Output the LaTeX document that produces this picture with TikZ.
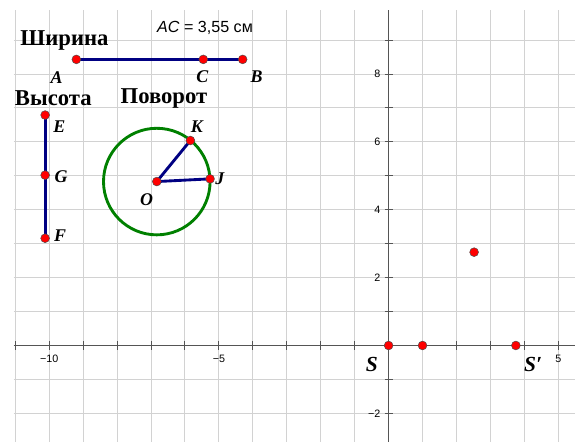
\documentclass[tikz,border=0pt]{standalone}
\usepackage{fontspec}
\setmainfont{Liberation Serif}
\newfontfamily\axisfont{Liberation Sans}
\usepackage{tikz}
\definecolor{segblue}{RGB}{0,0,130}
\definecolor{circgreen}{RGB}{0,128,0}
\definecolor{gridgray}{RGB}{210,210,210}
\definecolor{axisgray}{RGB}{85,85,85}
\tikzset{
  pt/.style={circle,fill=red,draw=black!70,line width=0.4pt,inner sep=0pt,minimum size=7.4pt},
  lbl/.style={font=\fontsize{15}{15}\selectfont\bfseries\itshape,inner sep=0pt},
  ttl/.style={font=\fontsize{19}{19}\selectfont\bfseries,inner sep=0pt},
  ticklbl/.style={font=\axisfont\fontsize{9}{9}\selectfont,inner sep=1pt},
  seg/.style={segblue,line width=2.4pt},
}

\begin{document}
\begin{tikzpicture}[x=1cm,y=1cm]
\useasboundingbox (-11.45,-2.84) rectangle (5.64,10.18);
\draw[gridgray,line width=0.8pt] (-11.05,-2.84) grid (5.5,9.88);
\draw[axisgray,line width=0.9pt] (-11.05,0) -- (5.5,0);
\draw[axisgray,line width=0.9pt] (0,-2.84) -- (0,9.88);
\foreach \x in {-11,...,5} \draw[axisgray,line width=0.8pt] (\x,-0.12) -- (\x,0.12);
\foreach \y in {-2,...,9} \draw[axisgray,line width=0.8pt] (-0.12,\y) -- (0.12,\y);
\node[ticklbl] (xm10) at (-10,-0.40) {−10};
\node[ticklbl] (xm5) at (-5,-0.40) {−5};
\node[ticklbl] (xp5) at (5,-0.40) {5};
\foreach \y in {8,6,4,2,-2} \node[ticklbl,anchor=east] (y\y) at (-0.2,\y) {\ifnum\y<0 −\number-\y\else\y\fi};

\coordinate (A) at (-9.20,8.43);
\coordinate (C) at (-5.46,8.43);
\coordinate (B) at (-4.30,8.43);
\coordinate (E) at (-10.12,6.79);
\coordinate (G) at (-10.12,5.02);
\coordinate (F) at (-10.12,3.16);
\coordinate (O) at (-6.83,4.83);
\coordinate (J) at (-5.26,4.91);
\coordinate (K) at (-5.84,6.04);
\coordinate (S) at (0,0);
\coordinate (U) at (1,0);
\coordinate (Sp) at (3.75,0);
\coordinate (R) at (2.52,2.75);

\draw[seg] (A) -- (B);
\draw[seg] (E) -- (F);
\draw[circgreen,line width=2.4pt] (O) circle (1.57);
\draw[seg] (O) -- (J);
\draw[seg] (O) -- (K);

\foreach \p in {A,C,B,E,G,F,O,J,K,S,U,Sp,R} \node[pt] at (\p) {};

\node[ttl] (width) at (-9.55,8.98) {Ширина};
\node[ttl] (height) at (-9.88,7.29) {Высота};
\node[ttl] (turn) at (-6.62,7.29) {Поворот};
\node[font=\axisfont\fontsize{13.5}{13.5}\selectfont] (acval) at (-5.41,9.35) {\textit{AC} = 3,55 см};

\node[lbl] (labA) at (-9.78,7.90) {A};
\node[lbl] (labC) at (-5.49,7.92) {C};
\node[lbl] (labB) at (-3.89,7.92) {B};
\node[lbl] (labE) at (-9.70,6.45) {E};
\node[lbl] (labG) at (-9.65,4.96) {G};
\node[lbl] (labF) at (-9.68,3.24) {F};
\node[lbl] (labK) at (-5.65,6.45) {K};
\node[lbl] (labJ) at (-4.97,4.91) {J};
\node[lbl] (labO) at (-7.13,4.29) {O};
\node[lbl,font=\fontsize{18}{18}\selectfont\bfseries\itshape] (labS) at (-0.49,-0.57) {S};
\node[lbl,font=\fontsize{18}{18}\selectfont\bfseries\itshape] (labSp) at (4.26,-0.57) {S′};
\end{tikzpicture}
\end{document}
